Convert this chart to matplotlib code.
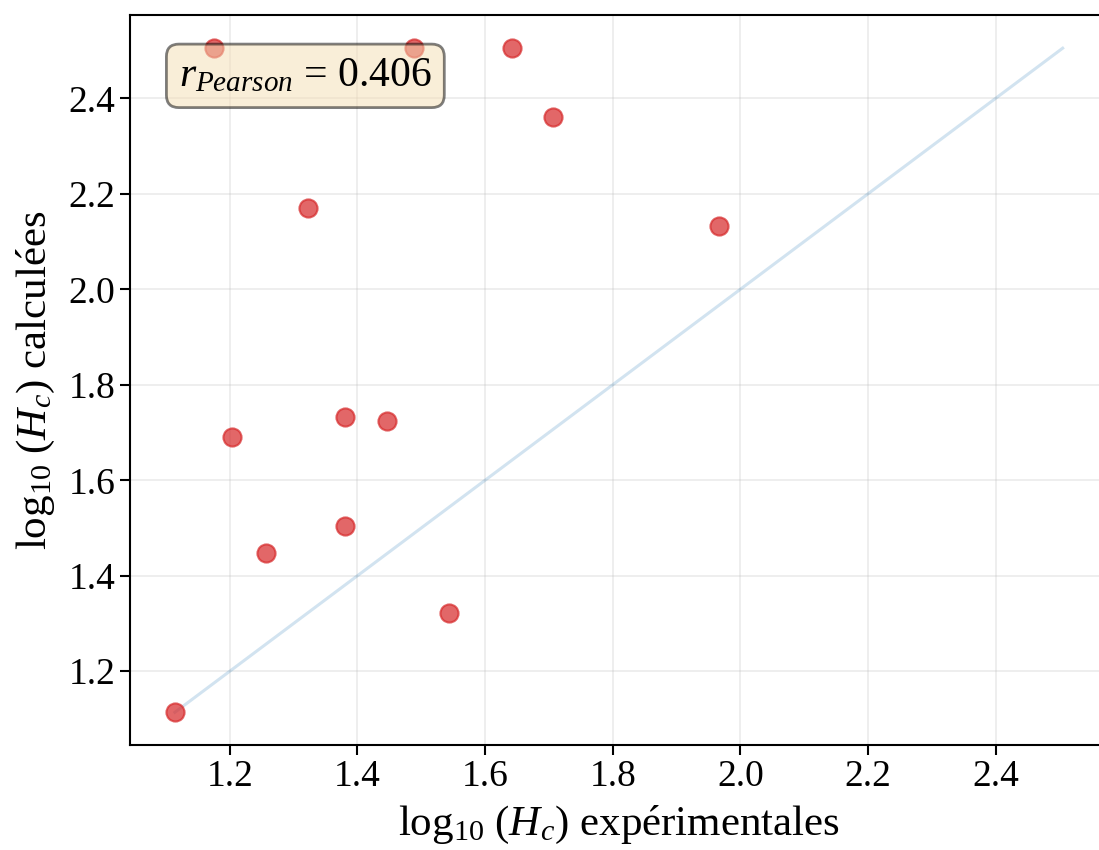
import numpy as np
import matplotlib
matplotlib.use("Agg")
import matplotlib.pyplot as plt

# valeurs
hc_exp = [1.175, 1.489, 1.642, 1.706, 1.322, 1.966, 1.380, 1.447, 1.204, 1.380, 1.256, 1.543, 1.114]
hc_calc = [2.505, 2.505, 2.505, 2.360, 2.170, 2.133, 1.733, 1.724, 1.690, 1.505, 1.447, 1.322, 1.114]
r_pearson = 0.406

plt.rcParams['font.family'] = ['Liberation Serif', 'DejaVu Serif']
plt.rcParams['mathtext.fontset'] = 'custom'
plt.rcParams['mathtext.rm'] = 'Liberation Serif'
plt.rcParams['mathtext.it'] = 'Liberation Serif:italic'
plt.rcParams['font.size'] = 27

fig = plt.figure(figsize=(10.99, 8.5), dpi=100)
ax = fig.add_axes([130/1099, 105/850, 978/1099, 730/850])

ax.grid(True, alpha=0.25, linewidth=1.2)
ax.set_axisbelow(True)

mini = min(min(hc_exp), min(hc_calc))
maxi = max(max(hc_exp), max(hc_calc))
ax.plot([mini, maxi], [mini, maxi], color="tab:blue", alpha=0.2, linewidth=2.2)
ax.scatter(hc_exp, hc_calc, c="tab:red", alpha=0.7, s=170, edgecolors="tab:red", linewidths=1.5, zorder=3)

ax.set_xlim(1.0437, 2.576)
ax.set_ylim(1.0455, 2.5745)
ax.set_xticks([1.2, 1.4, 1.6, 1.8, 2.0, 2.2, 2.4])
ax.set_yticks([1.2, 1.4, 1.6, 1.8, 2.0, 2.2, 2.4])
ax.tick_params(length=7, width=1.5)
for s in ax.spines.values():
    s.set_linewidth(1.5)

ax.set_xlabel(r"$\log_{10}\,(H_c)$ expérimentales", fontsize=31, labelpad=7)
ax.set_ylabel(r"$\log_{10}\,(H_c)$ calculées", fontsize=31, labelpad=8)

ax.text(0.05, 0.943, r"$r_{Pearson}$ = %.3f" % r_pearson, transform=ax.transAxes,
        va="top", ha="left", zorder=5, fontsize=30,
        bbox=dict(boxstyle="round", facecolor="wheat", alpha=0.5, linewidth=2))

fig.savefig("out.png", dpi=100)
